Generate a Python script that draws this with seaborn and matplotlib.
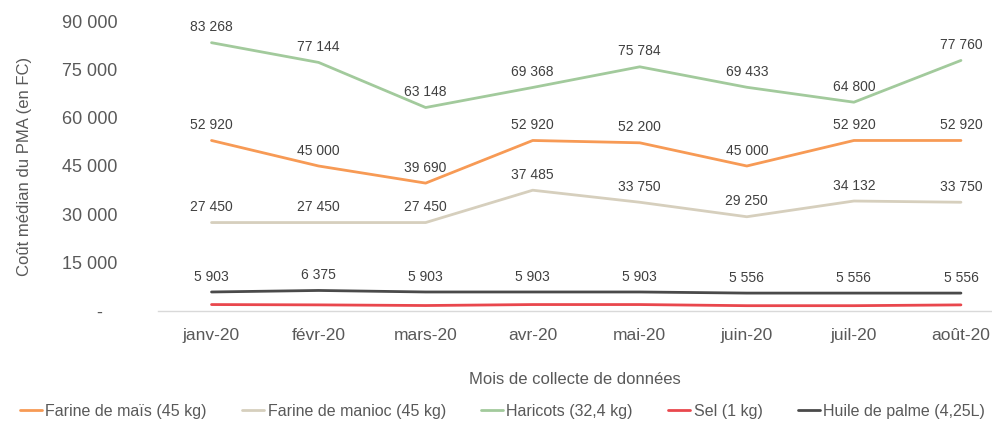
import pandas as pd
import matplotlib.pyplot as plt
import matplotlib.ticker as mticker
import seaborn as sns

# --------------------------
# Data
# --------------------------
mois = ["janv-20", "févr-20", "mars-20", "avr-20", "mai-20", "juin-20", "juil-20", "août-20"]
mais = [52920, 45000, 39690, 52920, 52200, 45000, 52920, 52920]
manioc = [27450, 27450, 27450, 37485, 33750, 29250, 34132, 33750]
haricots = [83268, 77144, 63148, 69368, 75784, 69433, 64800, 77760]
sel = [2000, 1900, 1700, 2000, 2000, 1650, 1650, 1900]
huile = [5903, 6375, 5903, 5903, 5903, 5556, 5556, 5556]

series = {
    "Farine de maïs (45 kg)": mais,
    "Farine de manioc (45 kg)": manioc,
    "Haricots (32,4 kg)": haricots,
    "Sel (1 kg)": sel,
    "Huile de palme (4,25L)": huile,
}
colors = ["#F79A55", "#D6CFBD", "#A2CA9C", "#E9474D", "#4A4A4A"]
labelled = ["Farine de maïs (45 kg)", "Farine de manioc (45 kg)",
            "Haricots (32,4 kg)", "Huile de palme (4,25L)"]

rows = []
for name, vals in series.items():
    for i, v in enumerate(vals):
        rows.append({"idx": i, "Mois": mois[i], "Produit": name, "Coût": v})
df = pd.DataFrame(rows)

# --------------------------
# Setup
# --------------------------
sns.set_theme(style="white")
plt.rcParams["font.family"] = ["Liberation Sans", "DejaVu Sans"]
text_col = "#595959"

fig = plt.figure(figsize=(9.92, 4.24), dpi=100)
ax = fig.add_axes([158 / 992, 113 / 424, 834 / 992, 290 / 424])

sns.lineplot(data=df, x="idx", y="Coût", hue="Produit", palette=colors,
             linewidth=2.0, ax=ax, legend=True)

# data labels
for name in labelled:
    for i, v in enumerate(series[name]):
        ax.annotate(f"{v:,}".replace(",", " "), (i, v), xytext=(0, 6),
                    textcoords="offset points", ha="center", va="bottom",
                    fontsize=10, color="#404040")

ax.set_xlim(-0.5, 7.29)
ax.set_ylim(0, 90000)
ax.set_xticks(range(len(mois)))
ax.set_xticklabels(mois)
ax.set_yticks(range(0, 90001, 15000))
ax.yaxis.set_major_formatter(mticker.FuncFormatter(
    lambda v, p: "-   " if v == 0 else f"{int(v):,}".replace(",", " ")))
ax.tick_params(axis="both", length=0, labelsize=13, colors=text_col)
ax.tick_params(axis="x", labelsize=12.5, pad=12)
ax.tick_params(axis="y", pad=29)

for s in ["top", "right", "left"]:
    ax.spines[s].set_visible(False)
ax.spines["bottom"].set_color("#D9D9D9")
ax.spines["bottom"].set_linewidth(1)

ax.set_xlabel("Mois de collecte de données", fontsize=12, color=text_col, labelpad=21)
ax.set_ylabel("Coût médian du PMA (en FC)", fontsize=12, color=text_col)
ax.yaxis.set_label_coords(-0.151, 0.5)

handles, labels = ax.get_legend_handles_labels()
ax.legend(handles, labels, loc="center", bbox_to_anchor=(0.413, -0.345), ncol=5,
          frameon=False, fontsize=11.5, handlelength=1.4, handletextpad=0.2,
          columnspacing=2.2, labelcolor=text_col)

fig.savefig("out.png", dpi=100)
plt.close()
